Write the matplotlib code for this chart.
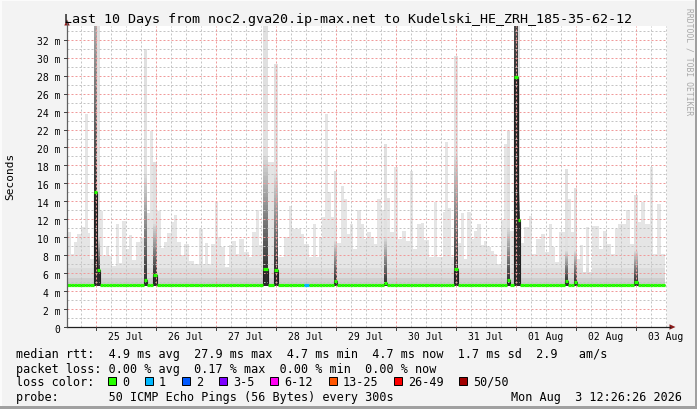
import numpy as np
import matplotlib
matplotlib.use("Agg")
import matplotlib.pyplot as plt
from matplotlib.patches import Rectangle, Polygon
from matplotlib.lines import Line2D

# ---------------- data ----------------
title = "Last 10 Days from noc2.gva20.ip-max.net to Kudelski_HE_ZRH_185-35-62-12"
day_labels = ["25 Jul", "26 Jul", "27 Jul", "28 Jul", "29 Jul",
              "30 Jul", "31 Jul", "01 Aug", "02 Aug", "03 Aug"]
window_h = 240.0            # 10 days, start Jul 24 12:26:26
first_midnight_h = 11.559   # Jul 25 00:00 relative to start
y_tick_values = [0, 2, 4, 6, 8, 10, 12, 14, 16, 18, 20, 22, 24, 26, 28, 30, 32]
y_tick_labels = ["0", "2 m", "4 m", "6 m", "8 m", "10 m", "12 m", "14 m", "16 m",
                 "18 m", "20 m", "22 m", "24 m", "26 m", "28 m", "30 m", "32 m"]

# smoke segments: start time (hours since window start) and max rtt (ms)
seg_start_h = [0.0, 1.6, 2.8, 4.0, 5.6, 7.2, 8.4, 9.2, 10.8, 12.0, 13.2, 14.4, 15.6, 16.8,
               18.0, 19.6, 20.8, 22.0, 23.6, 24.8, 26.0, 27.6, 29.2, 30.8, 32.0, 33.2, 34.4,
               36.0, 37.6, 38.8, 40.0, 41.6, 42.8, 44.0, 45.6, 46.8, 48.8, 50.8, 52.8, 54.4,
               55.2, 56.4, 57.6, 59.2, 60.4, 61.6, 63.2, 64.8, 66.0, 67.6, 68.8, 70.8, 72.8,
               74.0, 75.6, 76.8, 78.4, 80.4, 82.8, 84.4, 86.8, 88.8, 90.0, 92.0, 93.6, 94.8,
               96.8, 98.4, 99.6, 100.8, 102.0, 103.2, 104.4, 105.6, 106.8, 108.0, 109.6,
               110.8, 112.0, 113.2, 114.4, 116.0, 117.6, 118.8, 120.0, 121.6, 122.8, 124.0,
               125.6, 126.8, 128.0, 129.2, 130.8, 132.4, 134.0, 135.6, 137.2, 138.4, 140.0,
               141.6, 142.8, 144.8, 146.8, 148.0, 149.2, 150.4, 151.2, 152.4, 153.6, 154.8,
               156.4, 157.6, 158.8, 160.0, 161.6, 162.8, 164.0, 165.6, 166.8, 168.0, 169.6,
               170.8, 172.0, 173.6, 174.8, 176.0, 177.2, 178.8, 180.4, 181.2, 182.8, 184.8,
               186.0, 187.6, 189.6, 191.2, 192.8, 194.0, 195.2, 196.8, 199.2, 200.4, 201.6,
               202.8, 204.0, 205.2, 206.4, 207.6, 208.8, 210.0, 211.6, 212.8, 214.4, 216.0,
               217.6, 219.2, 220.4, 221.6, 223.6, 225.2, 226.8, 228.4, 229.6, 231.2, 233.2,
               234.4, 236.0, 237.6]
seg_end_h = 239.2
smoke_max = [10.6, 8.1, 9.5, 10.4, 11.1, 23.7, 10.5, 7.6, 33.5, 33.5, 12.9, 7.9, 9.0, 7.9,
             6.8, 11.5, 7.1, 11.8, 8.7, 10.3, 7.5, 9.5, 9.9, 31.0, 12.7, 21.8, 18.4,
             12.9, 8.8, 9.5, 10.5, 11.7, 12.5, 9.5, 8.0, 9.2, 7.4, 7.0, 10.9, 7.0,
             9.4, 7.0, 9.3, 13.9, 10.0, 8.9, 6.7, 9.1, 9.6, 8.1, 9.8, 8.3, 7.8,
             10.6, 13.0, 9.1, 33.5, 18.4, 29.3, 7.8, 10.0, 13.5, 10.9, 10.9, 10.4, 9.3,
             7.8, 11.5, 7.8, 10.0, 12.2, 23.7, 15.0, 12.2, 17.4, 9.4, 15.7,
             14.3, 10.4, 11.5, 8.7, 13.0, 11.5, 9.8, 10.6, 10.0, 9.3, 14.3,
             13.0, 20.4, 14.4, 10.6, 17.8, 9.8, 10.7, 9.6, 17.4, 8.7, 11.5,
             11.6, 9.7, 7.8, 13.9, 7.8, 7.8, 12.8, 20.6, 13.3, 7.8, 30.2,
             9.4, 12.7, 7.6, 12.8, 9.8, 10.7, 11.5, 9.1, 9.6, 8.9, 8.5,
             8.1, 7.0, 11.9, 20.4, 21.8, 10.7, 33.5, 33.5, 9.4, 11.1, 12.4,
             8.1, 9.8, 10.4, 8.3, 11.5, 8.9, 7.2, 10.6, 17.6, 14.3, 10.6,
             15.5, 7.6, 9.1, 6.1, 11.1, 6.1, 11.3, 11.3, 8.7, 10.7, 9.3,
             8.1, 10.9, 11.5, 11.5, 13.0, 9.3, 14.7, 11.7, 13.9, 11.5, 17.8,
             8.1, 13.7, 8.1]

base_median = 4.7
# segments where the median rose (dark smoke columns)
spike_start_h = [10.8, 12.0, 30.8, 34.4, 78.4, 82.8, 106.8, 126.8, 154.8, 176.0,
                 178.8, 180.4, 199.2, 202.8, 226.8]
spike_median = [15.0, 6.4, 5.2, 5.8, 6.5, 6.4, 5.1, 4.9, 6.5, 5.2, 27.8, 11.9, 5.1, 5.0, 5.0]
spike_dark_top = [42.0, 10.0, 17.0, 11.5, 19.0, 17.0, 9.6, 10.0, 19.0, 11.0, 60.0, 15.0,
                  8.5, 8.5, 8.5]

loss_start_h = [94.8]
loss_pings = [1]
loss_labels = ["0", "1", "2", "3-5", "6-12", "13-25", "26-49", "50/50"]
loss_colors = ["#26ff00", "#00b8ff", "#0059ff", "#7e00ff", "#ff00f3", "#ff5500",
               "#ff0000", "#a10000"]

legend_rows = [
    "median rtt:  4.9 ms avg  27.9 ms max  4.7 ms min  4.7 ms now  1.7 ms sd  2.9   am/s",
    "packet loss: 0.00 % avg  0.17 % max  0.00 % min  0.00 % now",
    "loss color:",
    "probe:       50 ICMP Echo Pings (56 Bytes) every 300s",
]
stamp = "Mon Aug  3 12:26:26 2026"

# ---------------- figure ----------------
W, H = 697, 410
MONO = "DejaVu Sans Mono"
fig = plt.figure(figsize=(W / 100, H / 100), dpi=100, facecolor="#f3f3f3")


def P(x, y):
    return (x / W, 1 - y / H)


X0, X1, YT, YB = 67, 667, 27.3, 328
ax = fig.add_axes([X0 / W, 1 - YB / H, (X1 - X0) / W, (YB - YT) / H])
ax.set_facecolor("white")
ax.set_xlim(0, window_h)
ax.set_ylim(0, 33.5)
for s in ax.spines.values():
    s.set_visible(False)
ax.set_xticks([])
ax.set_yticks([])

edges = np.array(seg_start_h + [seg_end_h])
tops = np.array(smoke_max)
assert len(tops) == len(seg_start_h)
med = np.array([spike_median[spike_start_h.index(t)] if t in spike_start_h else base_median
                for t in seg_start_h])
is_spike = np.array([t in spike_start_h for t in seg_start_h])

# light smoke layers
smoke_top = np.where(is_spike, med, tops)
for level, col in [(99, "#e5e5e5"), (6.6, "#dcdcdc"), (5.5, "#cecece")]:
    ax.stairs(np.minimum(smoke_top, level), edges, baseline=med, fill=True,
              color=col, lw=0, zorder=1)

# dark smoke columns
n = 28
for t, m, d in zip(spike_start_h, spike_median, spike_dark_top):
    i = seg_start_h.index(t)
    w = edges[i + 1] - edges[i]
    top = tops[i]
    if m > base_median + 0.1:
        ax.bar(t, m - (base_median - 0.1), width=w, bottom=base_median - 0.1, align="edge",
               color="#2c2c2c", lw=0, zorder=2)
    step = (d - m) / n
    for k in range(n):
        lo = m + k * step
        hi = min(m + (k + 1) * step, top)
        if hi <= lo:
            break
        f = (k + 0.5) / n
        g = 0x30 + (0xdc - 0x30) * f
        c = "#%02x%02x%02x" % (int(g), int(g), int(g))
        ax.bar(t, hi - lo, width=w, bottom=lo, align="edge", color=c, lw=0, zorder=2)
    if top > d:
        ax.bar(t, top - d, width=w, bottom=d, align="edge", color="#e0e0e0", lw=0, zorder=2)

# grid (dotted)
dot = (0, (2, 2))
gkw = dict(lw=0.72, ls=dot, zorder=3)
GRAY, RED = "#c4c4c4", "#f09a9a"
for v in range(1, 34):
    ax.axhline(v, color=GRAY if v % 2 else RED, **gkw)
midnights = [first_midnight_h + 24 * k for k in range(10)]
h = first_midnight_h - 6
while h < window_h:
    if h > 0:
        is_mid = any(abs(h - mm) < 1e-6 for mm in midnights)
        ax.axvline(h, color=RED if is_mid else GRAY, **gkw)
    h += 6

# median line
ax.stairs(med, edges, baseline=None, color="#202020", lw=0.8, zorder=4)


def bucket(p):
    if p <= 2:
        return p
    for b, hi in zip(range(3, 8), [5, 12, 25, 49, 50]):
        if p <= hi:
            return b
    return 7


seg_cols = []
for t in seg_start_h:
    p = loss_pings[loss_start_h.index(t)] if t in loss_start_h else 0
    seg_cols.append(loss_colors[bucket(p)])
ax.hlines(med, edges[:-1], edges[1:], colors=seg_cols, lw=2.3, zorder=5, capstyle="butt")

# ---------------- axes / ticks drawn in pixel space ----------------
def ypx(v):
    return YB - v * (YB - YT) / 33.5


def xpx(hh):
    return X0 + hh * (X1 - X0) / window_h


def fline(xs, ys, **kw):
    fig.add_artist(Line2D([x / W for x in xs], [1 - y / H for y in ys],
                          transform=fig.transFigure, **kw))


fline([X0, X0], [YB, 22], color="#606060", lw=0.9)
fline([X0, 670], [YB, YB], color="#202020", lw=0.9)
fig.add_artist(Polygon([P(67, 20.5), P(64.3, 26.5), P(69.7, 26.5)], closed=True,
                       transform=fig.transFigure, color="#8b1a1a", lw=0))
fig.add_artist(Polygon([P(675.5, 328), P(669.5, 325.3), P(669.5, 330.7)], closed=True,
                       transform=fig.transFigure, color="#8b1a1a", lw=0))

for v, lab in zip(y_tick_values, y_tick_labels):
    yy = ypx(v)
    fline([X0 - 3, X0], [yy, yy], color="#404040", lw=0.7)
    fig.text(*P(60.5, yy + 4.6), lab, ha="right", va="baseline", fontsize=7.0,
             family=MONO, color="#000000")
for mm in midnights:
    xx = xpx(mm)
    fline([xx, xx], [YB, YB + 3], color="#404040", lw=0.7)
for k, lab in enumerate(day_labels):
    xx = xpx(first_midnight_h + 12 + 24 * k)
    fig.text(*P(xx, 340.5), lab, ha="center", va="baseline", fontsize=7.0,
             family=MONO, color="#000000")

fig.text(*P(64.3, 23.5), title, ha="left", va="baseline", fontsize=9.6, family=MONO,
         color="#000000")
fig.text(*P(10, 176), "Seconds", ha="center", va="center", rotation=90, fontsize=8.0,
         family=MONO, color="#000000")
fig.text(*P(688.5, 8), "RRDTOOL / TOBI OETIKER", ha="center", va="top", rotation=270,
         fontsize=5.8, family=MONO, color="#a8a8a8")

# legend
baselines = [358.5, 372.7, 386.0, 400.7]
for txt, yb in zip(legend_rows, baselines):
    fig.text(*P(15.5, yb), txt, ha="left", va="baseline", fontsize=8.5, family=MONO,
             color="#000000")
fig.text(*P(682, 400.7), stamp, ha="right", va="baseline", fontsize=8.5, family=MONO,
         color="#000000")

sq_x = 108.0
for lab, col in zip(loss_labels, loss_colors):
    fig.add_artist(Rectangle(P(sq_x, 385.5), 8 / W, 8 / H, transform=fig.transFigure,
                             facecolor=col, edgecolor="#000000", lw=0.7))
    fig.text(*P(sq_x + 14, 386.0), lab, ha="left", va="baseline", fontsize=8.5,
             family=MONO, color="#000000")
    sq_x += 14 + 7.107 * len(lab) + 15.9

# frame
fig.add_artist(Rectangle((0, 0), 1, 3 / H, transform=fig.transFigure,
                         facecolor="#a0a0a0", lw=0))
fig.add_artist(Rectangle((1 - 2 / W, 0), 2 / W, 1, transform=fig.transFigure,
                         facecolor="#a0a0a0", lw=0))
fig.add_artist(Rectangle((0, 1 - 2 / H), 1 - 2 / W, 2 / H, transform=fig.transFigure,
                         facecolor="#fbfbfb", lw=0))
fig.add_artist(Rectangle((0, 3 / H), 2 / W, 1 - 3 / H, transform=fig.transFigure,
                         facecolor="#fbfbfb", lw=0))

fig.savefig("out.png", dpi=100, facecolor=fig.get_facecolor())
